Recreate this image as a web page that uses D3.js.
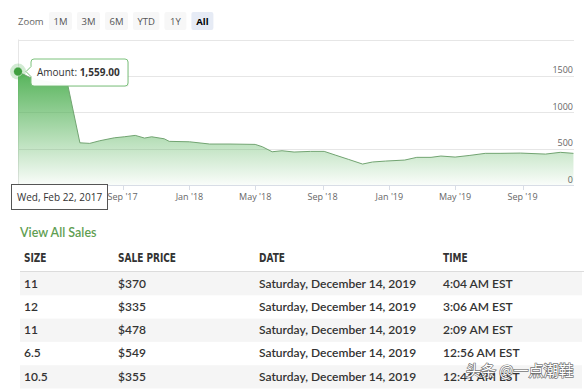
<!DOCTYPE html>
<html>
<head>
<meta charset="utf-8">
<script src="https://cdn.jsdelivr.net/npm/d3@7"></script>
<style>
  body { margin: 0; background: #fff; }
  svg { display: block; }
</style>
</head>
<body>
<svg id="chart" width="588" height="390"></svg>
<script>
// price history (sale amount over time)
var priceDates = ["2017-02-22", "2017-03-15", "2017-04-10", "2017-05-05", "2017-05-24",
  "2017-06-15", "2017-07-03", "2017-07-21", "2017-08-17", "2017-09-04", "2017-09-24",
  "2017-10-11", "2017-10-24", "2017-11-16", "2017-11-25", "2018-01-01", "2018-02-07",
  "2018-03-16", "2018-05-01", "2018-05-14", "2018-06-01", "2018-06-19", "2018-07-11",
  "2018-08-10", "2018-09-04", "2018-09-24", "2018-10-18", "2018-11-13", "2018-12-01",
  "2018-12-25", "2019-01-29", "2019-02-20", "2019-03-18", "2019-04-05", "2019-05-01",
  "2019-05-28", "2019-06-25", "2019-07-22", "2019-08-28", "2019-10-13", "2019-11-09",
  "2019-12-03"];
var priceValues = [1559, 1480, 1430, 1400, 1370,
  580, 572, 608, 649, 663, 682,
  645, 663, 635, 600, 594, 563,
  563, 558, 526, 457, 471, 453,
  462, 462, 412, 353, 288, 316,
  329, 343, 380, 380, 398, 384,
  407, 435, 435, 439, 425, 449,
  435];

var yTicks = [0, 500, 1000, 1500, 2000];
var yTickLabels = ["0", "500", "1000", "1500", ""];
var xTickDates = ["2017-09-01", "2018-01-01", "2018-05-01", "2018-09-01",
  "2019-01-01", "2019-05-01", "2019-09-01"];
var xTickLabels = ["Sep '17", "Jan '18", "May '18", "Sep '18", "Jan '19", "May '19", "Sep '19"];
var zoomButtons = ["1M", "3M", "6M", "YTD", "1Y", "All"];

// recent sales table
var tableHeaders = ["SIZE", "SALE PRICE", "DATE", "TIME"];
var saleSizes = ["11", "12", "11", "6.5", "10.5"];
var salePrices = ["$370", "$335", "$478", "$549", "$355"];
var saleDates = ["Saturday, December 14, 2019", "Saturday, December 14, 2019",
  "Saturday, December 14, 2019", "Saturday, December 14, 2019", "Saturday, December 14, 2019"];
var saleTimes = ["4:04 AM EST", "3:06 AM EST", "2:09 AM EST", "12:56 AM EST", "12:41 AM EST"];

var parse = d3.timeParse("%Y-%m-%d");
var svg = d3.select("#chart");
var chartFont = "'Open Sans', sans-serif";
var tableFont = "Lato, 'Open Sans', sans-serif";

var x = d3.scaleTime()
  .domain([parse("2017-02-22"), parse("2019-12-04")])
  .range([18, 574]);
var y = d3.scaleLinear().domain([0, 2000]).range([185, 39.5]);

var series = priceDates.map(function (d, i) { return { date: parse(d), value: priceValues[i] }; });

// zoom buttons
svg.append("text")
  .attr("x", 18).attr("y", 24.5)
  .style("font-family", chartFont).style("font-size", "9.5px")
  .style("fill", "#666")
  .text("Zoom");

var bx = 49;
zoomButtons.forEach(function (label) {
  var sel = label === "All";
  var g = svg.append("g");
  var r = g.append("rect").attr("y", 12).attr("height", 18).attr("rx", 2)
    .style("fill", sel ? "#e6ebf5" : "#f7f7f7");
  var t = g.append("text")
    .attr("y", 24.5)
    .style("font-family", chartFont).style("font-size", "9.5px")
    .style("font-weight", sel ? "bold" : "normal")
    .style("fill", sel ? "#000" : "#555")
    .style("text-anchor", "middle")
    .text(label);
  var tw = t.node().getComputedTextLength();
  var w = Math.max(22, tw + 9);
  r.attr("x", bx).attr("width", w);
  t.attr("x", bx + w / 2);
  bx += w + 5;
});

// grid lines and y labels
svg.selectAll(".grid").data(yTicks).enter().append("line")
  .attr("x1", 18).attr("x2", 574)
  .attr("y1", function (d) { return Math.round(y(d)) + 0.5; })
  .attr("y2", function (d) { return Math.round(y(d)) + 0.5; })
  .style("stroke", function (d) { return d === 0 ? "#d8dde6" : "#e6e6e6"; })
  .style("stroke-width", 1);

svg.selectAll(".ylab").data(yTicks).enter().append("text")
  .attr("x", 573)
  .attr("y", function (d) { return y(d) - 2.5; })
  .style("text-anchor", "end")
  .style("font-family", chartFont).style("font-size", "9px")
  .style("fill", "#666")
  .text(function (d, i) { return yTickLabels[i]; });

// left border of plot
svg.append("line")
  .attr("x1", 18.5).attr("x2", 18.5).attr("y1", 39.5).attr("y2", 185)
  .style("stroke", "#e6e6e6");

// x ticks and labels
var xt = xTickDates.map(parse);
svg.selectAll(".xtick").data(xt).enter().append("line")
  .attr("x1", function (d) { return Math.round(x(d)) + 0.5; })
  .attr("x2", function (d) { return Math.round(x(d)) + 0.5; })
  .attr("y1", 185).attr("y2", 190)
  .style("stroke", "#d8dde6");

svg.selectAll(".xlab").data(xt).enter().append("text")
  .attr("x", function (d) { return x(d); })
  .attr("y", 200)
  .style("text-anchor", "middle")
  .style("font-family", chartFont).style("font-size", "9px")
  .style("fill", "#666")
  .text(function (d, i) { return xTickLabels[i]; });

// area gradient
var defs = svg.append("defs");
var grad = defs.append("linearGradient").attr("id", "areaGrad")
  .attr("x1", 0).attr("y1", 0).attr("x2", 0).attr("y2", 1);
grad.append("stop").attr("offset", "0%").attr("stop-color", "#4caf50").attr("stop-opacity", 0.95);
grad.append("stop").attr("offset", "100%").attr("stop-color", "#4caf50").attr("stop-opacity", 0.03);

var area = d3.area()
  .x(function (d) { return x(d.date); })
  .y0(y(0))
  .y1(function (d) { return y(d.value); });
var line = d3.line()
  .x(function (d) { return x(d.date); })
  .y(function (d) { return y(d.value); });

svg.append("path").datum(series).attr("d", area).style("fill", "url(#areaGrad)");
svg.append("path").datum(series).attr("d", line)
  .style("fill", "none").style("stroke", "#72a472").style("stroke-width", 1);

// hovered point
var p0 = series[0];
svg.append("circle").attr("cx", x(p0.date)).attr("cy", y(p0.value)).attr("r", 8)
  .style("fill", "#4caf50").style("fill-opacity", 0.25);
svg.append("circle").attr("cx", x(p0.date)).attr("cy", y(p0.value)).attr("r", 4.5)
  .style("fill", "#3f9f3f").style("stroke", "#fff").style("stroke-width", 0.5);

// tooltip
var tx = 31, ty = 59, tw2 = 97, th = 27, ay = y(p0.value);
var tipPath = "M" + (tx + 3) + "," + ty + " L" + (tx + tw2 - 3) + "," + ty +
  " Q" + (tx + tw2) + "," + ty + " " + (tx + tw2) + "," + (ty + 3) +
  " L" + (tx + tw2) + "," + (ty + th - 3) +
  " Q" + (tx + tw2) + "," + (ty + th) + " " + (tx + tw2 - 3) + "," + (ty + th) +
  " L" + (tx + 3) + "," + (ty + th) +
  " Q" + tx + "," + (ty + th) + " " + tx + "," + (ty + th - 3) +
  " L" + tx + "," + (ay + 5) + " L" + (tx - 5) + "," + ay + " L" + tx + "," + (ay - 5) +
  " L" + tx + "," + (ty + 3) + " Q" + tx + "," + ty + " " + (tx + 3) + "," + ty + " Z";
svg.append("path").attr("d", tipPath).attr("transform", "translate(1,1)")
  .style("fill", "rgba(0,0,0,0.06)");
svg.append("path").attr("d", tipPath)
  .style("fill", "rgba(255,255,255,0.97)").style("stroke", "#7cc27c").style("stroke-width", 1);
var tipText = svg.append("text").attr("x", 37).attr("y", 76)
  .style("font-family", chartFont).style("font-size", "10px").style("fill", "#333");
tipText.append("tspan").text("Amount: ");
tipText.append("tspan").style("font-weight", "bold").text(d3.format(",.2f")(p0.value));

// crosshair date label
svg.append("rect").attr("x", 11.5).attr("y", 184.5).attr("width", 96).attr("height", 25)
  .style("fill", "#fff").style("stroke", "#555").style("stroke-width", 1);
svg.append("text").attr("x", 17).attr("y", 200.5)
  .style("font-family", chartFont).style("font-size", "10px").style("fill", "#333")
  .text(d3.timeFormat("%a, %b %-d, %Y")(p0.date));

// sales table
svg.append("text").attr("x", 20).attr("y", 236.5)
  .style("font-family", tableFont).style("font-size", "12.5px").style("font-weight", 600)
  .style("fill", "#5f9e52")
  .text("View All Sales");

var colX = [24, 118, 259, 443];
tableHeaders.forEach(function (h, i) {
  svg.append("text")
    .attr("transform", "translate(" + colX[i] + ",261.5) scale(0.8,1)")
    .style("font-family", "'Liberation Sans Narrow', 'DejaVu Sans Condensed', sans-serif")
    .style("font-size", "12.5px").style("font-weight", "bold")
    .style("fill", "#333")
    .text(h);
});

svg.append("line").attr("x1", 20).attr("x2", 584).attr("y1", 271.5).attr("y2", 271.5)
  .style("stroke", "#dcdcdc");

var rowY = d3.scaleLinear().domain([0, 1]).range([272, 295.3]);
var rows = saleSizes.map(function (s, i) {
  return [s, salePrices[i], saleDates[i], saleTimes[i]];
});
rows.forEach(function (r, i) {
  if (i % 2 === 0) {
    svg.append("rect").attr("x", 20).attr("width", 562)
      .attr("y", rowY(i)).attr("height", rowY(1) - rowY(0))
      .style("fill", "#f5f5f5");
  }
  r.forEach(function (cell, j) {
    svg.append("text")
      .attr("x", colX[j]).attr("y", rowY(i) + 15.5)
      .style("font-family", tableFont).style("font-size", "12px").style("font-weight", 600)
      .style("fill", "#333")
      .text(cell);
  });
});

// watermark overlay
svg.append("text").attr("x", 466).attr("y", 376)
  .style("font-family", "'Noto Sans CJK SC', sans-serif").style("font-size", "15px")
  .style("fill", "#fff").style("stroke", "rgba(70,70,70,0.75)").style("stroke-width", 1.4)
  .style("paint-order", "stroke")
  .text("头条 @一点潮鞋");
</script>
</body>
</html>
